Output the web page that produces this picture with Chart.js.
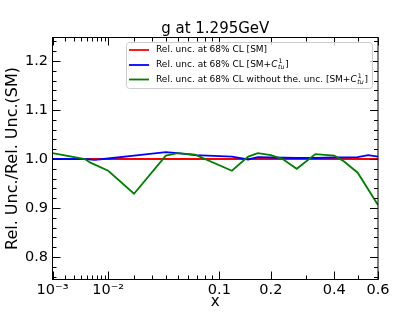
<!DOCTYPE html>
<html><head><meta charset="utf-8">
<script src="https://cdn.jsdelivr.net/npm/chart.js@4/dist/chart.umd.min.js"></script>
<style>html,body{margin:0;padding:0;background:#fff}#wrap{width:420px;height:315px;position:relative}</style>
</head><body><div id="wrap"><canvas id="c" width="420" height="315"></canvas></div>
<script>
const titleText = 'g at 1.295GeV';
const xTitle = 'x';
const yTitle = 'Rel. Unc./Rel. Unc.(SM)';
const seriesNames = [
  'Rel. unc. at 68% CL [SM]',
  'Rel. unc. at 68% CL [SM+C_{tu}^{1}]',
  'Rel. unc. at 68% CL without the. unc. [SM+C_{tu}^{1}]'
];
const seriesColors = ['#ff0000', '#0000ff', '#008000'];

const redX = [0.001, 0.6];
const redY = [1.0, 1.0];
const blueX = [0.001, 0.0046, 0.0065, 0.01, 0.02, 0.04, 0.05, 0.068, 0.12, 0.15, 0.17, 0.2, 0.27, 0.33, 0.4, 0.5, 0.55, 0.6];
const blueY = [1.0, 1.0, 0.998, 1.001, 1.007, 1.014, 1.012, 1.008, 1.005, 0.999, 1.004, 1.003, 1.002, 1.002, 1.003, 1.004, 1.008, 1.005];
const greenX = [0.001, 0.0046, 0.0055, 0.01, 0.02, 0.04, 0.05, 0.068, 0.12, 0.15, 0.17, 0.2, 0.23, 0.27, 0.33, 0.4, 0.44, 0.5, 0.6];
const greenY = [1.012, 1.0, 0.993, 0.976, 0.929, 1.007, 1.012, 1.009, 0.976, 1.005, 1.012, 1.008, 1.0, 0.980, 1.010, 1.007, 0.995, 0.972, 0.906];

const xMajorTicks = [0.001, 0.01, 0.1, 0.2, 0.4, 0.6];
const xMajorLabels = ['10\u207B\u00B3', '10\u207B\u00B2', '0.1', '0.2', '0.4', '0.6'];
const xMinorTicks = [0.002, 0.003, 0.004, 0.005, 0.006, 0.007, 0.008, 0.009,
                     0.02, 0.03, 0.04, 0.05, 0.06, 0.07, 0.08, 0.09, 0.3, 0.5];
const yMajorTicks = [0.8, 0.9, 1.0, 1.1, 1.2];
const yMajorLabels = ['0.8', '0.9', '1.0', '1.1', '1.2'];
const yMinorTicks = [0.76, 0.78, 0.82, 0.84, 0.86, 0.88, 0.92, 0.94, 0.96, 0.98,
                     1.02, 1.04, 1.06, 1.08, 1.12, 1.14, 1.16, 1.18, 1.22, 1.24];
const xMin = 0.001, xMax = 0.6, yMin = 0.754, yMax = 1.248;
const POW = 0.3;

class PowScale extends Chart.LinearScale {
  determineDataLimits() { this.min = this.options.min; this.max = this.options.max; }
  buildTicks() {
    return xMajorTicks.concat(xMinorTicks).sort((a, b) => a - b).map(v => ({value: v}));
  }
  getPixelForValue(v) {
    const a = Math.pow(this.min, POW), b = Math.pow(this.max, POW);
    return this.getPixelForDecimal((Math.pow(v, POW) - a) / (b - a));
  }
  getValueForPixel(p) {
    const a = Math.pow(this.min, POW), b = Math.pow(this.max, POW);
    return Math.pow(a + this.getDecimalForPixel(p) * (b - a), 1 / POW);
  }
}
PowScale.id = 'pow';
PowScale.defaults = {};
Chart.register(PowScale);

Chart.defaults.font.family = 'DejaVu Sans';
Chart.defaults.color = '#000';

const toPts = (xs, ys) => xs.map((x, i) => ({x: x, y: ys[i]}));

function drawRich(ctx, text, x, y, size) {
  const re = /C_\{(\w+)\}\^\{(\w+)\}/;
  const m = text.match(re);
  ctx.textBaseline = 'middle';
  ctx.textAlign = 'left';
  const normal = size + 'px "DejaVu Sans"';
  if (!m) { ctx.font = normal; ctx.fillText(text, x, y); return; }
  const pre = text.slice(0, m.index), post = text.slice(m.index + m[0].length);
  ctx.font = normal; ctx.fillText(pre, x, y); x += ctx.measureText(pre).width;
  ctx.font = 'italic ' + size + 'px "DejaVu Sans"'; ctx.fillText('C', x, y); x += ctx.measureText('C').width + 0.5;
  const s = size * 0.7;
  ctx.font = 'italic ' + s + 'px "DejaVu Sans"'; ctx.fillText(m[1], x, y + size * 0.3); const w1 = ctx.measureText(m[1]).width;
  ctx.font = s + 'px "DejaVu Sans"'; ctx.fillText(m[2], x + 0.5, y - size * 0.38); const w2 = ctx.measureText(m[2]).width;
  x += Math.max(w1, w2) + 0.8;
  ctx.font = normal; ctx.fillText(post, x, y);
}

const decor = {
  id: 'decor',
  afterDatasetsDraw(chart) {
    const {ctx, chartArea: ca, scales: {x, y}} = chart;
    ctx.save();
    ctx.strokeStyle = '#000'; ctx.lineWidth = 1;
    ctx.beginPath();
    x.ticks.forEach(t => {
      const px = Math.round(x.getPixelForValue(t.value)) + 0.5;
      const L = xMajorTicks.includes(t.value) ? 8 : 4;
      ctx.moveTo(px, ca.bottom); ctx.lineTo(px, ca.bottom - L);
      ctx.moveTo(px, ca.top); ctx.lineTo(px, ca.top + L);
    });
    y.ticks.forEach(t => {
      const py = Math.round(y.getPixelForValue(t.value)) + 0.5;
      const L = yMajorTicks.includes(t.value) ? 8 : 4;
      ctx.moveTo(ca.left, py); ctx.lineTo(ca.left + L, py);
      ctx.moveTo(ca.right, py); ctx.lineTo(ca.right - L, py);
    });
    ctx.stroke();
    ctx.strokeRect(ca.left, ca.top, ca.right - ca.left, ca.bottom - ca.top);
    ctx.restore();
  },
  afterDraw(chart) {
    const {ctx, chartArea: ca} = chart;
    ctx.save();
    ctx.fillStyle = '#000';
    ctx.font = '15px "DejaVu Sans"';
    ctx.textAlign = 'center'; ctx.textBaseline = 'alphabetic';
    ctx.fillText(titleText, (ca.left + ca.right) / 2, 32.5);
    const bx = 126, by = 42, bw = 246, bh = 46;
    ctx.beginPath();
    ctx.roundRect(bx + 0.5, by + 0.5, bw, bh, 3);
    ctx.fillStyle = 'rgba(255,255,255,0.8)'; ctx.fill();
    ctx.strokeStyle = '#cccccc'; ctx.lineWidth = 1; ctx.stroke();
    const rows = [50, 65, 79.5];
    chart.data.datasets.forEach((ds, i) => {
      const ry = rows[i];
      ctx.strokeStyle = ds.borderColor; ctx.lineWidth = 1.8;
      ctx.beginPath(); ctx.moveTo(129, ry); ctx.lineTo(149, ry); ctx.stroke();
      ctx.fillStyle = '#000';
      drawRich(ctx, seriesNames[i], 156, ry, 9);
    });
    ctx.restore();
  }
};

new Chart(document.getElementById('c'), {
  type: 'line',
  data: {
    datasets: [
      {label: seriesNames[0], data: toPts(redX, redY), borderColor: seriesColors[0], order: 3},
      {label: seriesNames[1], data: toPts(blueX, blueY), borderColor: seriesColors[1], order: 2},
      {label: seriesNames[2], data: toPts(greenX, greenY), borderColor: seriesColors[2], order: 1}
    ]
  },
  options: {
    responsive: false,
    animation: false,
    devicePixelRatio: 1,
    layout: {padding: {top: 37.5, right: 42, left: 0, bottom: 0}},
    elements: {point: {radius: 0}, line: {borderWidth: 1.8, tension: 0, fill: false}},
    plugins: {legend: {display: false}, tooltip: {enabled: false}, title: {display: false}},
    scales: {
      x: {
        type: 'pow', position: 'bottom', min: xMin, max: xMax,
        grid: {display: false, drawTicks: false}, border: {display: false},
        afterFit: s => { s.height = 35.5; },
        ticks: {
          autoSkip: false, maxRotation: 0, padding: 2.5,
          font: {size: 14.5},
          callback: v => { const k = xMajorTicks.indexOf(v); return k >= 0 ? xMajorLabels[k] : ''; }
        },
        title: {display: true, text: xTitle, font: {size: 15}, padding: {top: 0, bottom: 3.5}}
      },
      y: {
        type: 'linear', position: 'left', min: yMin, max: yMax,
        grid: {display: false, drawTicks: false}, border: {display: false},
        afterFit: s => { s.width = 52.5; },
        afterBuildTicks: s => { s.ticks = yMajorTicks.concat(yMinorTicks).sort((a, b) => a - b).map(v => ({value: v})); },
        ticks: {
          autoSkip: false, padding: 4.5,
          font: {size: 14.5},
          callback: v => { const k = yMajorTicks.indexOf(v); return k >= 0 ? yMajorLabels[k] : ''; }
        },
        title: {display: true, text: yTitle, font: {size: 16}, padding: {top: 3, bottom: 0}}
      }
    }
  },
  plugins: [decor]
});
</script>
</body></html>
